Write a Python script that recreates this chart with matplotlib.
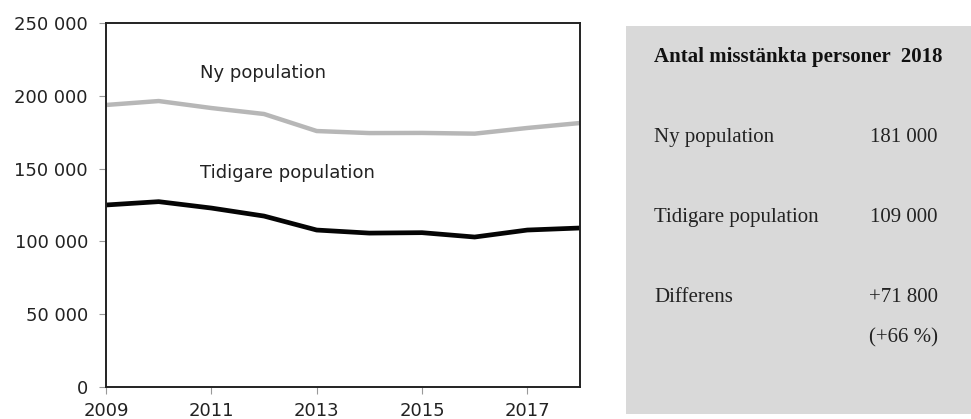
import matplotlib.pyplot as plt
from matplotlib.patches import Rectangle
from matplotlib.ticker import FuncFormatter

# data
years = [2009, 2010, 2011, 2012, 2013, 2014, 2015, 2016, 2017, 2018]
ny_population = [193700, 196400, 191600, 187500, 175800, 174400, 174500, 174000, 177900, 181300]
tidigare_population = [125000, 127300, 122900, 117400, 107800, 105700, 106000, 103000, 107800, 109200]

xticks = [2009, 2011, 2013, 2015, 2017]
yticks = [0, 50000, 100000, 150000, 200000, 250000]

box_title = "Antal misstänkta personer  2018"
box_rows = [("Ny population", "181 000"),
            ("Tidigare population", "109 000"),
            ("Differens", "+71 800"),
            ("", "(+66 %)")]
box_row_y = [0.673, 0.482, 0.291, 0.193]

fig = plt.figure(figsize=(9.71, 4.19), dpi=100)
ax = fig.add_axes([0.1092, 0.0764, 0.4881, 0.8687])

ax.plot(years, ny_population, color="#b7b7b7", lw=3.2, solid_capstyle="butt", solid_joinstyle="round")
ax.plot(years, tidigare_population, color="#050505", lw=3.4, solid_capstyle="butt", solid_joinstyle="round")

ax.set_xlim(2009, 2018)
ax.set_ylim(0, 250000)
ax.set_xticks(xticks)
ax.set_yticks(yticks)
ax.yaxis.set_major_formatter(FuncFormatter(lambda v, p: f"{int(v):,}".replace(",", " ")))

for s in ax.spines.values():
    s.set_linewidth(1.4)
    s.set_color("#222222")
ax.tick_params(direction="out", length=5, width=0.8, color="#999999",
               labelsize=13, labelcolor="#222222")
ax.tick_params(axis="y", pad=8)
ax.tick_params(axis="x", pad=6)
for lab in ax.get_xticklabels() + ax.get_yticklabels():
    lab.set_family("DejaVu Sans")

ax.text(2010.78, 216000, "Ny population", fontsize=13, family="DejaVu Sans",
        color="#222222", va="center", ha="left")
ax.text(2010.78, 147000, "Tidigare population", fontsize=13, family="DejaVu Sans",
        color="#222222", va="center", ha="left")

# summary box on the right
fig.patches.append(Rectangle((0.6447, 0.0119), 0.3553, 0.926, transform=fig.transFigure,
                             facecolor="#d9d9d9", edgecolor="none", zorder=0))
fig.text(0.6735, 0.864, box_title, fontsize=15, fontweight="bold",
         family="Liberation Serif", color="#111111", va="center", ha="left")
for (label, value), y in zip(box_rows, box_row_y):
    if label:
        fig.text(0.6735, y, label, fontsize=15, family="Liberation Serif",
                 color="#222222", va="center", ha="left")
    fig.text(0.966, y, value, fontsize=15, family="Liberation Serif",
             color="#222222", va="center", ha="right")

fig.savefig("out.png", dpi=100)
plt.close(fig)
